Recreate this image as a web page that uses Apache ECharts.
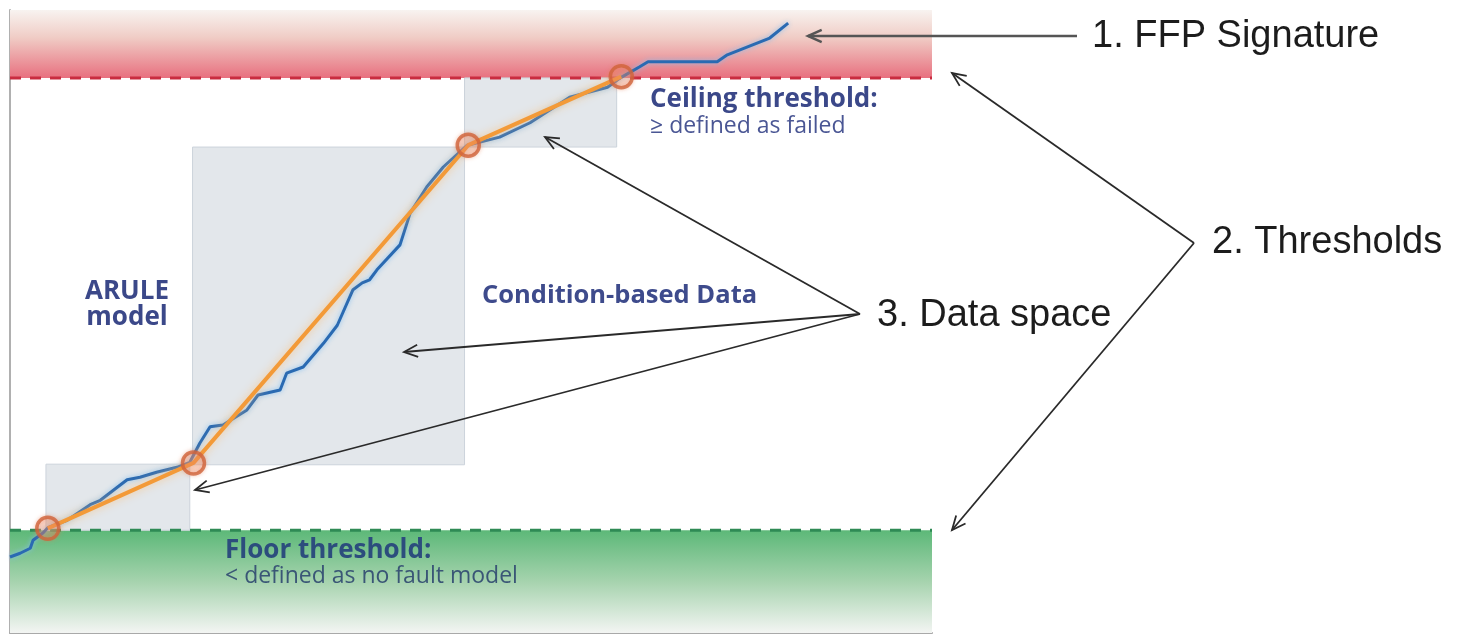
<!DOCTYPE html>
<html><head><meta charset="utf-8">
<script src="https://cdn.jsdelivr.net/npm/echarts@6/dist/echarts.min.js"></script>
<style>html,body{margin:0;padding:0;background:#fff}#c{width:1462px;height:637px}</style>
</head><body><div id="c"></div>
<script>
// ---- data (conceptual units, 0..100 on both axes) ----
const blueX = [0,1.1,2.2,2.5,3.6,4.1,6.2,8.7,9.8,12.7,14.1,15.9,18.1,19.5,20.6,21.7,23.1,25.7,26.9,29.3,30.0,31.8,34.0,35.5,37.2,38.2,39.0,39.8,42.3,43.4,45.2,47.0,49.6,53.1,56.4,60.7,64.8,66.2,68.3,69.2,76.7,77.8,82.4,84.4];
const blueY = [12.2,12.8,13.6,14.9,16.1,16.9,18.1,20.6,21.3,24.6,25.0,25.8,26.6,27.4,30.5,33.1,33.4,35.8,38.2,39.0,41.7,42.7,46.5,49.4,55.1,56.2,56.7,58.3,62.3,67.4,71.6,74.8,78.3,79.6,81.9,86.0,87.6,89.1,90.9,91.7,91.7,92.8,95.5,97.9];
const knotX = [4.1,19.9,49.7,66.3];
const knotY = [16.8,27.3,78.3,89.3];
const boxX0 = [3.9,19.8,49.3];
const boxX1 = [19.5,49.3,65.8];
const boxY0 = [16.5,27.0,78.0];
const boxY1 = [27.1,78.0,89.1];
const floorLevel = 16.5;
const ceilingLevel = 89.1;
const axisMin = 0, axisMax = 100;

const chart = echarts.init(document.getElementById('c'), null, {renderer:'canvas'});

const bandGrad = [
  new echarts.graphic.LinearGradient(0,0,0,1,[{offset:0,color:'#f8f3f0'},{offset:0.4,color:'#f0cdc6'},{offset:1,color:'#e8707f'}]),
  new echarts.graphic.LinearGradient(0,0,0,1,[{offset:0,color:'#5cb878'},{offset:0.5,color:'#a6d3ae'},{offset:1,color:'#f3f5f3'}])
];
const bandData = [[axisMin,axisMax,ceilingLevel,axisMax],[axisMin,axisMax,axisMin,floorLevel]];
const boxData = boxX0.map((v,i)=>[v,boxX1[i],boxY0[i],boxY1[i]]);

function rectItem(fillFn, stroke){
  return function(params, api){
    const p0 = api.coord([api.value(0), api.value(3)]);
    const p1 = api.coord([api.value(1), api.value(2)]);
    return {type:'rect', shape:{x:p0[0], y:p0[1], width:p1[0]-p0[0], height:p1[1]-p0[1]},
      style:{fill: fillFn(params.dataIndex), stroke: stroke, lineWidth: stroke ? 1 : 0}};
  };
}

function arrow(x1,y1,x2,y2,color,w){
  const ang = Math.atan2(y1-y2, x1-x2), L = 15, a = 0.42;
  return [
    {type:'line', z:50, shape:{x1,y1,x2,y2}, style:{stroke:color, lineWidth:w}},
    {type:'polyline', z:50, shape:{points:[[x2+L*Math.cos(ang+a), y2+L*Math.sin(ang+a)],[x2,y2],[x2+L*Math.cos(ang-a), y2+L*Math.sin(ang-a)]]},
      style:{stroke:color, lineWidth:w, fill:null}}
  ];
}
function txt(text,x,y,font,fill,align){
  return {type:'text', z:60, style:{text, x, y, font, fill, align: align||'left', verticalAlign:'middle'}};
}
const blueFont = (s,b)=> (b?'bold ':'') + s + 'px "Open Sans"';
const rightFont = '38px "Liberation Sans"';

const graphics = [].concat(
  arrow(1077,36,808,36,'#555',2.5),
  arrow(1194,243,952,73,'#2a2a2a',1.8),
  arrow(1194,243,952,530,'#2a2a2a',1.8),
  arrow(860,314,545,137,'#2a2a2a',1.8),
  arrow(860,314,404,352,'#2a2a2a',1.8),
  arrow(860,314,195,490,'#2a2a2a',1.8),
  [
    txt('1. FFP Signature',1092,37,rightFont,'#1c1c1c'),
    txt('2. Thresholds',1212,243,rightFont,'#1c1c1c'),
    txt('3. Data space',877,316,rightFont,'#1c1c1c'),
    txt('ARULE',127,292,blueFont(26,true),'#3b4889','center'),
    txt('model',127,318,blueFont(26,true),'#3b4889','center'),
    txt('Condition-based Data',482,296,blueFont(25.5,true),'#3e4b8c'),
    txt('Ceiling threshold:',650,100,blueFont(26,true),'#3b4889'),
    txt('\u2265 defined as failed',650,126,blueFont(23,false),'#4a5694'),
    txt('Floor threshold:',225,551,blueFont(26,true),'#2c4d7d'),
    txt('< defined as no fault model',225,576,blueFont(23,false),'#3a5676')
  ]
);

chart.setOption({
  animation:false,
  grid:{left:10,right:530,top:10,bottom:4},
  xAxis:{type:'value',min:axisMin,max:axisMax,axisLine:{show:true,lineStyle:{color:'#a9a9a9',width:2}},axisTick:{show:false},axisLabel:{show:false},splitLine:{show:false}},
  yAxis:{type:'value',min:axisMin,max:axisMax,axisLine:{show:true,lineStyle:{color:'#b0b0b0',width:2}},axisTick:{show:false},axisLabel:{show:false},splitLine:{show:false}},
  series:[
    {type:'custom', z:1, data:bandData, renderItem: rectItem(i=>bandGrad[i], null)},
    {type:'custom', z:2, data:boxData, renderItem: rectItem(()=>'#e3e7eb', '#ccd3db')},
    {type:'line', z:3, symbol:'none', data:[[axisMin,ceilingLevel],[axisMax,ceilingLevel]], lineStyle:{color:'#c92c40',width:3,type:[11,9]}},
    {type:'line', z:3, symbol:'none', data:[[axisMin,floorLevel],[axisMax,floorLevel]], lineStyle:{color:'#2f8a55',width:3,type:[11,9]}},
    {type:'line', z:4, symbol:'none', data:blueX.map((x,i)=>[x,blueY[i]]),
      lineStyle:{color:'#2a6ab2',width:3,shadowColor:'rgba(130,190,240,0.9)',shadowBlur:5}},
    {type:'line', z:5, symbol:'none', data:knotX.map((x,i)=>[x,knotY[i]]),
      lineStyle:{color:'#f39a38',width:4,shadowColor:'rgba(250,190,120,0.8)',shadowBlur:8}},
    {type:'scatter', z:6, symbol:'circle', symbolSize:22, data:knotX.map((x,i)=>[x,knotY[i]]),
      itemStyle:{color:'rgba(236,140,110,0.35)',borderColor:'#d0633a',borderWidth:3.5,shadowColor:'rgba(230,120,80,0.5)',shadowBlur:4}}
  ],
  graphic: graphics
});
</script></body></html>
